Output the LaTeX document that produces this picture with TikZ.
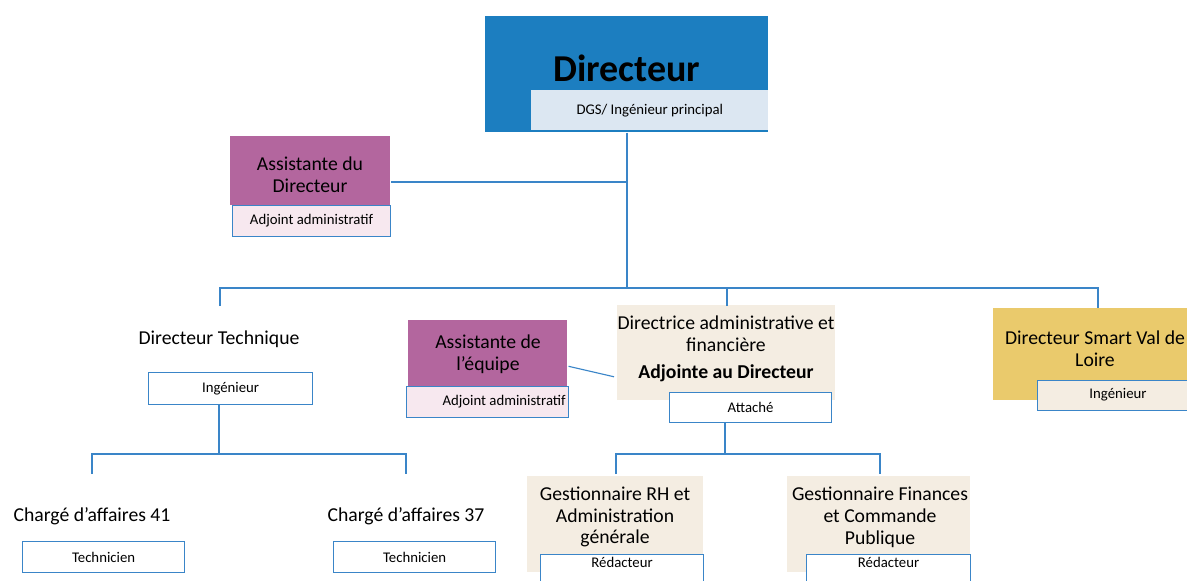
\documentclass[tikz,border=0pt]{standalone}
\usepackage{fontspec}
\setmainfont{Carlito}
\usetikzlibrary{calc}
\definecolor{lineblue}{HTML}{3A85C8}
\definecolor{dirblue}{HTML}{1C7EC0}
\definecolor{dgsfill}{HTML}{DCE7F2}
\definecolor{mauve}{HTML}{B3669E}
\definecolor{pinkfill}{HTML}{F7E8EF}
\definecolor{beige}{HTML}{F4EDE2}
\definecolor{sand}{HTML}{EACA6C}
\newcommand{\px}{0.025cm}
\begin{document}
\begin{tikzpicture}[x=\px,y=-\px,
	area/.style={inner sep=0pt,anchor=north west},
	box/.style={area,draw=lineblue,line width=.8pt,fill=white,font=\fontsize{10.5}{12}\selectfont},
	lbl/.style={align=center,font=\fontsize{14}{15.5}\selectfont},
	link/.style={draw=lineblue,line width=.8pt}]
	\useasboundingbox (0,0) rectangle (1187,580);
	\clip (0,0) rectangle (1187,580);
	% direction
	\node[area,fill=dirblue,minimum width=283*\px,minimum height=116*\px] (dir) at (485,16) {};
	\node[font=\bfseries\fontsize{27}{30}\selectfont] (dirt) at (627,68) {Directeur};
	\node[area,fill=dgsfill,minimum width=237*\px,minimum height=40*\px,font=\fontsize{10.5}{12}\selectfont] (dgs) at (531,90) {DGS/ Ingénieur principal};
	\node[area,fill=mauve,minimum width=160*\px,minimum height=69*\px] (ass1) at (230,136) {};
	\node[lbl] (ass1t) at (310,175) {Assistante du\\Directeur};
	\node[box,fill=pinkfill,minimum width=158*\px,minimum height=31*\px] (adm1) at (232,205) {Adjoint administratif};
	% second level
	\node[lbl] (dt) at (219,339) {Directeur Technique};
	\node[box,minimum width=164*\px,minimum height=32*\px] (ing1) at (148,372) {Ingénieur};
	\node[area,fill=mauve,minimum width=159*\px,minimum height=66*\px] (ass2) at (408,320) {};
	\node[lbl] (ass2t) at (488,354) {Assistante de\\l’équipe};
	\node[box,fill=pinkfill,minimum width=162*\px,minimum height=31*\px] (adm2) at (406,386) {};
	\node[anchor=east,inner sep=0pt,font=\fontsize{10.5}{12}\selectfont] (adm2t) at (566,402) {Adjoint administratif};
	\node[area,fill=beige,minimum width=218*\px,minimum height=95*\px] (daf) at (617,305) {};
	\node[lbl] (daft) at (726,334) {Directrice administrative et\\financière};
	\node[lbl,font=\bfseries\fontsize{14}{15.5}\selectfont] (adj) at (726,373) {Adjointe au Directeur};
	\node[box,minimum width=162*\px,minimum height=30*\px] (att) at (669,392) {Attaché};
	\node[area,fill=sand,minimum width=200*\px,minimum height=92*\px] (svl) at (993,308) {};
	\node[lbl] (svlt) at (1095,349) {Directeur Smart Val de\\Loire};
	\node[box,fill=beige,minimum width=160*\px,minimum height=30*\px] (ing2) at (1037,380) {};
	\node[inner sep=0pt,font=\fontsize{10.5}{12}\selectfont] (ing2t) at (1118,395) {Ingénieur};
	% third level
	\node[lbl] (ca41) at (92,516) {Chargé d’affaires 41};
	\node[box,minimum width=162*\px,minimum height=31*\px] (tec1) at (22,541) {Technicien};
	\node[lbl] (ca37) at (406,516) {Chargé d’affaires 37};
	\node[box,minimum width=162*\px,minimum height=31*\px] (tec2) at (333,541) {Technicien};
	\node[area,fill=beige,minimum width=176*\px,minimum height=96*\px] (grh) at (527,476) {};
	\node[lbl] (grht) at (615,517) {Gestionnaire RH et\\Administration\\générale};
	\node[box,minimum width=163*\px,minimum height=30*\px,text depth=14*\px] (red1) at (540,554) {Rédacteur};
	\node[area,fill=beige,minimum width=183*\px,minimum height=96*\px] (gfc) at (787,476) {};
	\node[lbl] (gfct) at (880,517) {Gestionnaire Finances\\et Commande\\Publique};
	\node[box,minimum width=164*\px,minimum height=30*\px,text depth=14*\px] (red2) at (806,554) {Rédacteur};
	% links
	\coordinate (hub) at (627,288);
	\coordinate (j1) at (627,182);
	\coordinate (dtTop) at (220,306);
	\coordinate (dafTop) at (727,306);
	\coordinate (svlTop) at (1098,308);
	\draw[link] (hub |- dir.south) -- (hub);
	\draw[link] (j1) -- (j1 -| ass1.east);
	\draw[link] (dtTop) |- (hub) -| (svlTop);
	\draw[link] (dafTop) -- (dafTop |- hub);
	\coordinate (t1) at (219,454);
	\coordinate (c41Top) at (92,474);
	\coordinate (c37Top) at (406,474);
	\draw[link] (t1 |- ing1.south) -- (t1);
	\draw[link] (c41Top) |- (t1) -| (c37Top);
	\draw[link] ($(ass2.east)+(1,13)$) -- ($(daf.west)+(-3,24)$);
	\coordinate (t2) at (725,454);
	\coordinate (grhTop) at (616,474);
	\coordinate (gfcTop) at (880,474);
	\draw[link] (t2 |- att.south) -- (t2);
	\draw[link] (grhTop) |- (t2) -| (gfcTop);
\end{tikzpicture}
\end{document}
